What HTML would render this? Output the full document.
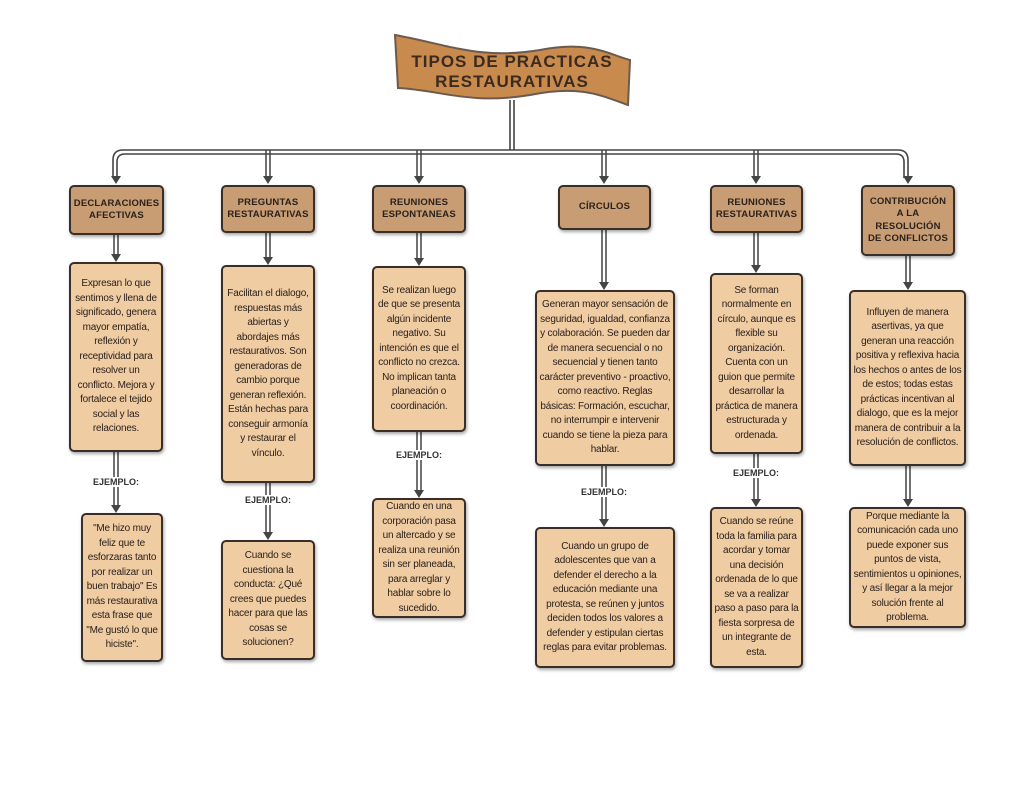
<!DOCTYPE html>
<html><head><meta charset="utf-8"><style>
body{margin:0;width:1024px;height:791px;background:#fff;position:relative;overflow:hidden;font-family:"Liberation Sans",sans-serif;}
.b{position:absolute;box-sizing:border-box;border:2px solid #3a2f28;border-radius:5px;display:flex;align-items:center;justify-content:center;text-align:center;box-shadow:1px 2px 3px rgba(0,0,0,.35);color:#2a211c}
.h{background:#c89d74;font-weight:bold;font-size:9.5px;line-height:12.5px;letter-spacing:.2px}
.c{background:#f0cca3;font-size:10px;line-height:14.5px;padding:1px 2px;letter-spacing:-0.2px}
.e{position:absolute;font-size:9px;font-weight:bold;color:#333;width:80px;text-align:center;background:#fff}
</style></head><body>
<svg width="1024" height="791" style="position:absolute;left:0;top:0">
<g stroke="#444" stroke-width="1.6" fill="none">
<path d="M510,100 V150 M514,100 V150"/>
<path d="M113,178 V160 Q113,150 123,150 H898 Q908,150 908,160 V178"/>
<path d="M117,178 V162 Q117,154 125,154 H896 Q904,154 904,162 V178"/>
</g>
<g stroke="#444" stroke-width="1.5">
<path d="M266,150 V178 M270,150 V178 M417,150 V178 M421,150 V178 M602,150 V178 M606,150 V178 M754,150 V178 M758,150 V178"/>
<path d="M114,235 V255 M118,235 V255 M266,233 V258 M270,233 V258 M417,233 V259 M421,233 V259 M602,230 V283 M606,230 V283 M754,233 V266 M758,233 V266 M906,256 V283 M910,256 V283"/>
<path d="M114,452 V506 M118,452 V506 M266,483 V533 M270,483 V533 M417,432 V491 M421,432 V491 M602,466 V520 M606,466 V520 M754,454 V500 M758,454 V500 M906,466 V500 M910,466 V500"/>
</g>
<g fill="#444">
<path d="M111,176 h10 l-5,8z M263,176 h10 l-5,8z M414,176 h10 l-5,8z M599,176 h10 l-5,8z M751,176 h10 l-5,8z M903,176 h10 l-5,8z"/>
<path d="M111,254 h10 l-5,8z M263,257 h10 l-5,8z M414,258 h10 l-5,8z M599,282 h10 l-5,8z M751,265 h10 l-5,8z M903,282 h10 l-5,8z"/>
<path d="M111,505 h10 l-5,8z M263,532 h10 l-5,8z M414,490 h10 l-5,8z M599,519 h10 l-5,8z M751,499 h10 l-5,8z M903,499 h10 l-5,8z"/>
</g>
<path d="M395,35 C450,45 480,60 540,50 C590,40 610,55 630,60 L628,105 C600,95 580,85 530,95 C470,105 440,90 398,88 Z" fill="#c98a4e" stroke="#6b5a4e" stroke-width="2"/>
<text x="512" y="67" text-anchor="middle" font-family="Liberation Sans" font-weight="bold" font-size="17" fill="#3a2a20" letter-spacing="1">TIPOS DE PRACTICAS</text>
<text x="512" y="87" text-anchor="middle" font-family="Liberation Sans" font-weight="bold" font-size="17" fill="#3a2a20" letter-spacing="1">RESTAURATIVAS</text>
</svg>

<div class="b h" style="left:69px;top:185px;width:95px;height:50px">DECLARACIONES<br>AFECTIVAS</div>
<div class="b h" style="left:221px;top:185px;width:94px;height:48px">PREGUNTAS<br>RESTAURATIVAS</div>
<div class="b h" style="left:372px;top:185px;width:94px;height:48px">REUNIONES<br>ESPONTANEAS</div>
<div class="b h" style="left:558px;top:185px;width:93px;height:45px">CÍRCULOS</div>
<div class="b h" style="left:710px;top:185px;width:93px;height:48px">REUNIONES<br>RESTAURATIVAS</div>
<div class="b h" style="left:861px;top:185px;width:94px;height:71px">CONTRIBUCIÓN<br>A LA<br>RESOLUCIÓN<br>DE CONFLICTOS</div>

<div class="b c" style="left:69px;top:262px;width:94px;height:190px">Expresan lo que sentimos y llena de significado, genera mayor empatía, reflexión y receptividad para resolver un conflicto. Mejora y fortalece el tejido social y las relaciones.</div>
<div class="b c" style="left:221px;top:265px;width:94px;height:218px">Facilitan el dialogo, respuestas más abiertas y abordajes más restaurativos. Son generadoras de cambio porque generan reflexión. Están hechas para conseguir armonía y restaurar el vínculo.</div>
<div class="b c" style="left:372px;top:266px;width:94px;height:166px">Se realizan luego de que se presenta algún incidente negativo. Su intención es que el conflicto no crezca. No implican tanta planeación o coordinación.</div>
<div class="b c" style="left:535px;top:290px;width:140px;height:176px">Generan mayor sensación de seguridad, igualdad, confianza y colaboración. Se pueden dar de manera secuencial o no secuencial y tienen tanto carácter preventivo - proactivo, como reactivo. Reglas básicas: Formación, escuchar, no interrumpir e intervenir cuando se tiene la pieza para hablar.</div>
<div class="b c" style="left:710px;top:273px;width:93px;height:181px">Se forman normalmente en círculo, aunque es flexible su organización. Cuenta con un guion que permite desarrollar la práctica de manera estructurada y ordenada.</div>
<div class="b c" style="left:849px;top:290px;width:117px;height:176px">Influyen de manera asertivas, ya que generan una reacción positiva y reflexiva hacia los hechos o antes de los de estos; todas estas prácticas incentivan al dialogo, que es la mejor manera de contribuir a la resolución de conflictos.</div>

<div class="e" style="left:76px;top:477px">EJEMPLO:</div>
<div class="e" style="left:228px;top:495px">EJEMPLO:</div>
<div class="e" style="left:379px;top:450px">EJEMPLO:</div>
<div class="e" style="left:564px;top:487px">EJEMPLO:</div>
<div class="e" style="left:716px;top:468px">EJEMPLO:</div>

<div class="b c" style="left:81px;top:513px;width:82px;height:149px">"Me hizo muy feliz que te esforzaras tanto por realizar un buen trabajo" Es más restaurativa esta frase que "Me gustó lo que hiciste".</div>
<div class="b c" style="left:221px;top:540px;width:94px;height:120px">Cuando se cuestiona la conducta: ¿Qué crees que puedes hacer para que las cosas se solucionen?</div>
<div class="b c" style="left:372px;top:498px;width:94px;height:120px">Cuando en una corporación pasa un altercado y se realiza una reunión sin ser planeada, para arreglar y hablar sobre lo sucedido.</div>
<div class="b c" style="left:535px;top:527px;width:140px;height:141px">Cuando un grupo de adolescentes que van a defender el derecho a la educación mediante una protesta, se reúnen y juntos deciden todos los valores a defender y estipulan ciertas reglas para evitar problemas.</div>
<div class="b c" style="left:710px;top:507px;width:93px;height:161px">Cuando se reúne toda la familia para acordar y tomar una decisión ordenada de lo que se va a realizar paso a paso para la fiesta sorpresa de un integrante de esta.</div>
<div class="b c" style="left:849px;top:507px;width:117px;height:121px">Porque mediante la comunicación cada uno puede exponer sus puntos de vista, sentimientos u opiniones, y así llegar a la mejor solución frente al problema.</div>
</body></html>
